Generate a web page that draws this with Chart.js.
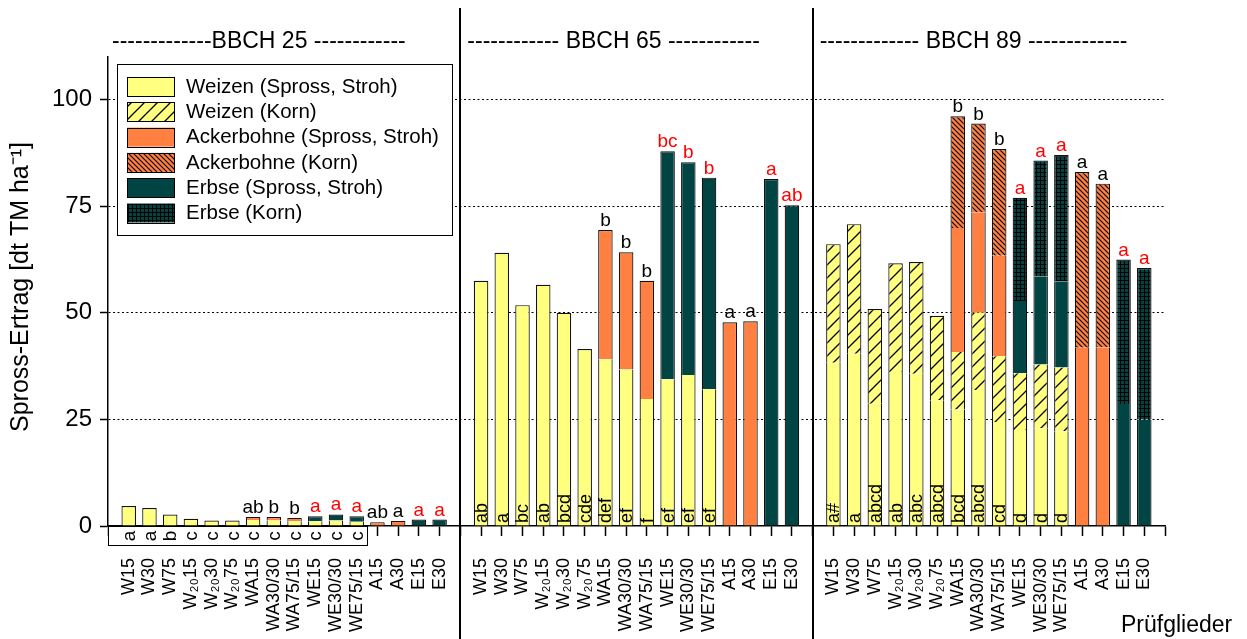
<!DOCTYPE html>
<html lang="de">
<head>
<meta charset="utf-8">
<title>Spross-Ertrag</title>
<script src="https://cdn.jsdelivr.net/npm/chart.js@4.4.1/dist/chart.umd.min.js"></script>
<style>
  html, body { margin: 0; padding: 0; background: #fff; }
  canvas { display: block; }
</style>
</head>
<body>
<canvas id="chart" width="1247" height="639"></canvas>
<script>
// Prüfglieder je Stadium (gleiche Reihenfolge in allen drei Blöcken)
const kategorien = ['W15', 'W30', 'W75', 'W\u2082\u208015', 'W\u2082\u208030', 'W\u2082\u208075', 'WA15', 'WA30/30', 'WA75/15', 'WE15', 'WE30/30', 'WE75/15', 'A15', 'A30', 'E15', 'E30'];
const stadien = ['BBCH 25', 'BBCH 65', 'BBCH 89'];
const yTicks = [0, 25, 50, 75, 100];

// BBCH 25
const weizenSpross25 = [4.7, 4.2, 2.7, 1.7, 1.3, 1.3, 1.4, 1.3, 1.1, 1.1, 1.3, 1.0, 0, 0, 0, 0];
const bohneSpross25 = [0, 0, 0, 0, 0, 0, 0.7, 0.8, 0.8, 0, 0, 0, 0.9, 1.2, 0, 0];
const erbseSpross25 = [0, 0, 0, 0, 0, 0, 0, 0, 0, 1.2, 1.4, 1.3, 0, 0, 1.5, 1.5];

// BBCH 65
const weizenSpross65 = [57.5, 64.1, 51.8, 56.6, 50.0, 41.5, 39.1, 36.7, 29.8, 34.4, 35.4, 32.1, 0, 0, 0, 0];
const bohneSpross65 = [0, 0, 0, 0, 0, 0, 30.3, 27.5, 27.7, 0, 0, 0, 47.8, 48.0, 0, 0];
const erbseSpross65 = [0, 0, 0, 0, 0, 0, 0, 0, 0, 53.5, 49.9, 49.6, 0, 0, 81.4, 75.2];

// BBCH 89 (Stroh + Korn)
const weizenStroh89 = [38.3, 40.4, 28.7, 36.1, 35.7, 29.5, 27.3, 31.9, 24.4, 22.5, 22.9, 22.2, 0, 0, 0, 0];
const weizenKorn89 = [27.8, 30.4, 22.2, 25.5, 26.2, 19.8, 13.5, 18.1, 15.4, 13.3, 15.0, 15.0, 0, 0, 0, 0];
const bohneStroh89 = [0, 0, 0, 0, 0, 0, 29.1, 23.6, 23.6, 0, 0, 0, 41.8, 41.9, 0, 0];
const bohneKorn89 = [0, 0, 0, 0, 0, 0, 26.2, 20.8, 25.0, 0, 0, 0, 41.2, 38.4, 0, 0];
const erbseStroh89 = [0, 0, 0, 0, 0, 0, 0, 0, 0, 17.0, 20.7, 20.2, 0, 0, 28.6, 25.0];
const erbseKorn89 = [0, 0, 0, 0, 0, 0, 0, 0, 0, 24.2, 27.1, 29.6, 0, 0, 33.9, 35.5];

// Buchstaben über den Säulen, rot = Erbse im Bestand
const oben25 = ['', '', '', '', '', '', 'ab', 'b', 'b', 'a', 'a', 'a', 'ab', 'a', 'a', 'a'];
const oben65 = ['', '', '', '', '', '', 'b', 'b', 'b', 'bc', 'b', 'b', 'a', 'a', 'a', 'ab'];
const oben89 = ['', '', '', '', '', '', 'b', 'b', 'b', 'a', 'a', 'a', 'a', 'a', 'a', 'a'];
const obenRot = [false, false, false, false, false, false, false, false, false, true, true, true, false, false, true, true];

// Buchstaben für Weizen (unten)
const unten25 = ['a', 'a', 'b', 'c', 'c', 'c', 'c', 'c', 'c', 'c', 'c', 'c'];
const unten65 = ['ab', 'a', 'bc', 'ab', 'bcd', 'cde', 'def', 'ef', 'f', 'ef', 'ef', 'ef'];
const unten89 = ['a#', 'a', 'abcd', 'ab', 'abc', 'abcd', 'bcd', 'abcd', 'cd', 'd', 'd', 'd'];

const GELB = '#FFFF80';
const ORANGE = '#FF8040';
const PETROL = '#004444';
const SCHRIFT = '"Liberation Sans", Arial, sans-serif';

Chart.defaults.font.family = SCHRIFT;
Chart.defaults.color = '#000';

const canvas = document.getElementById('chart');
const ctx = canvas.getContext('2d');

function muster(farbe, groesse, zeichne) {
  const c = document.createElement('canvas');
  c.width = groesse;
  c.height = groesse;
  const g = c.getContext('2d');
  g.fillStyle = farbe;
  g.fillRect(0, 0, groesse, groesse);
  g.strokeStyle = '#000';
  zeichne(g, groesse);
  return ctx.createPattern(c, 'repeat');
}

const weizenKornMuster = muster(GELB, 13, (g, s) => {
  g.lineWidth = 1.3;
  g.beginPath();
  g.moveTo(-1, 1); g.lineTo(1, -1);
  g.moveTo(0, s); g.lineTo(s, 0);
  g.moveTo(s - 1, s + 1); g.lineTo(s + 1, s - 1);
  g.stroke();
});
const bohneKornMuster = muster(ORANGE, 5, (g, s) => {
  g.lineWidth = 1.1;
  g.beginPath();
  g.moveTo(-1, s - 1); g.lineTo(1, s + 1);
  g.moveTo(0, 0); g.lineTo(s, s);
  g.moveTo(s - 1, -1); g.lineTo(s + 1, 1);
  g.stroke();
});
const erbseKornMuster = muster(PETROL, 4, (g, s) => {
  g.lineWidth = 1;
  g.beginPath();
  g.moveTo(0.5, 0); g.lineTo(0.5, s);
  g.moveTo(0, 0.5); g.lineTo(s, 0.5);
  g.stroke();
});

// 52 Positionen: leerer Platz an jeder Blockgrenze
const labels = [''];
stadien.forEach(() => { labels.push(...kategorien, ''); });

function verbinde(a, b, c) {
  const out = [null];
  [a, b, c].forEach(arr => {
    for (let i = 0; i < kategorien.length; i++) out.push(arr ? (arr[i] || null) : null);
    out.push(null);
  });
  return out;
}

function randBreite(c) {
  const ds = c.chart.data.datasets;
  const i = c.dataIndex;
  if (!ds[c.datasetIndex].data[i]) return 0;
  let oben = true;
  for (let k = c.datasetIndex + 1; k < ds.length; k++) {
    if (ds[k].data[i]) oben = false;
  }
  return { left: 1.2, right: 1.2, top: oben ? 1.2 : 0, bottom: 0 };
}

const datasets = [
  { label: 'Weizen (Spross, Stroh)', data: verbinde(weizenSpross25, weizenSpross65, weizenStroh89), backgroundColor: GELB },
  { label: 'Weizen (Korn)', data: verbinde(null, null, weizenKorn89), backgroundColor: weizenKornMuster },
  { label: 'Ackerbohne (Spross, Stroh)', data: verbinde(bohneSpross25, bohneSpross65, bohneStroh89), backgroundColor: ORANGE },
  { label: 'Ackerbohne (Korn)', data: verbinde(null, null, bohneKorn89), backgroundColor: bohneKornMuster },
  { label: 'Erbse (Spross, Stroh)', data: verbinde(erbseSpross25, erbseSpross65, erbseStroh89), backgroundColor: PETROL },
  { label: 'Erbse (Korn)', data: verbinde(null, null, erbseKorn89), backgroundColor: erbseKornMuster }
].map(d => Object.assign(d, {
  borderColor: '#111',
  borderWidth: randBreite,
  borderSkipped: false,
  categoryPercentage: 1,
  barPercentage: 0.7
}));

const beschriftung = {
  id: 'beschriftung',
  afterDraw(chart) {
    const x = chart.scales.x;
    const y = chart.scales.y;
    const c = chart.ctx;
    const basis = y.getPixelForValue(0);
    c.save();

    // Trennlinien zwischen den Stadien
    c.strokeStyle = '#000';
    c.lineWidth = 2;
    [17, 34].forEach(i => {
      const px = Math.round(x.getPixelForValue(i));
      c.beginPath();
      c.moveTo(px, 8);
      c.lineTo(px, 639);
      c.stroke();
    });

    // Überschriften
    c.fillStyle = '#000';
    c.font = '23px ' + SCHRIFT;
    c.textBaseline = 'middle';
    c.textAlign = 'left';
    const kopf = ['-------------BBCH 25 ------------', '------------ BBCH 65 ------------', '------------- BBCH 89 -------------'];
    const kopfVersatz = [4, 7, 7];
    kopf.forEach((t, g) => {
      c.fillText(t, x.getPixelForValue(g * 17) + kopfVersatz[g], 42);
    });

    // Buchstaben über den Säulen
    const ds = chart.data.datasets;
    const obenAlle = [oben25, oben65, oben89];
    c.font = '19px ' + SCHRIFT;
    c.textAlign = 'center';
    c.textBaseline = 'alphabetic';
    obenAlle.forEach((arr, g) => {
      arr.forEach((t, k) => {
        if (!t) return;
        const i = g * 17 + 1 + k;
        let summe = 0;
        ds.forEach(d => { summe += d.data[i] || 0; });
        c.fillStyle = obenRot[k] ? '#FF0000' : '#000';
        c.fillText(t, x.getPixelForValue(i), y.getPixelForValue(summe) - 4);
      });
    });

    // Buchstaben in den Weizensäulen (BBCH 65, 89)
    c.fillStyle = '#000';
    c.font = '18px ' + SCHRIFT;
    c.textAlign = 'left';
    c.textBaseline = 'middle';
    [[unten65, 1], [unten89, 2]].forEach(([arr, g]) => {
      arr.forEach((t, k) => {
        const i = g * 17 + 1 + k;
        c.save();
        c.translate(x.getPixelForValue(i), basis - 3);
        c.rotate(-Math.PI / 2);
        c.fillText(t, 0, 1);
        c.restore();
      });
    });

    // Kasten unter BBCH 25
    const kl = x.getPixelForValue(0);
    const kr = x.getPixelForValue(12.5);
    c.fillStyle = '#fff';
    c.fillRect(kl, basis + 1, kr - kl, 18);
    c.strokeStyle = '#000';
    c.lineWidth = 1;
    c.strokeRect(Math.round(kl) + 0.5, Math.round(basis) + 0.5, Math.round(kr - kl), 19);
    c.fillStyle = '#000';
    c.font = '19px ' + SCHRIFT;
    c.textAlign = 'center';
    unten25.forEach((t, k) => {
      c.save();
      c.translate(x.getPixelForValue(1 + k), basis + 10);
      c.rotate(-Math.PI / 2);
      c.fillText(t, 0, 1);
      c.restore();
    });

    // Legende
    const lx = 117, ly = 64;
    c.fillStyle = '#fff';
    c.fillRect(lx, ly, 335, 171);
    c.strokeStyle = '#000';
    c.lineWidth = 1;
    c.strokeRect(lx + 0.5, ly + 0.5, 335, 171);
    c.font = '20.5px ' + SCHRIFT;
    c.textAlign = 'left';
    c.textBaseline = 'middle';
    ds.forEach((d, k) => {
      const ry = 77 + k * 25.3;
      c.fillStyle = d.backgroundColor;
      c.fillRect(127, ry, 48, 19);
      c.strokeRect(127.5, Math.round(ry) + 0.5, 47, 19);
      c.fillStyle = '#000';
      c.fillText(d.label, 186, ry + 10);
    });

    // Achsentitel
    c.save();
    c.translate(21, 287);
    c.rotate(-Math.PI / 2);
    c.font = '25px ' + SCHRIFT;
    c.textAlign = 'center';
    c.fillText('Spross-Ertrag [dt TM ha\u207B\u00B9]', 0, 0);
    c.restore();

    c.font = '23px ' + SCHRIFT;
    c.textAlign = 'left';
    c.textBaseline = 'alphabetic';
    c.fillText('Prüfglieder', 1121, 632);

    c.restore();
  }
};

new Chart(ctx, {
  type: 'bar',
  data: { labels: labels, datasets: datasets },
  options: {
    responsive: false,
    animation: false,
    devicePixelRatio: 1,
    layout: { padding: { top: 57, right: 82, bottom: 0, left: 0 } },
    plugins: { legend: { display: false }, tooltip: { enabled: false } },
    scales: {
      x: {
        stacked: true,
        offset: false,
        grid: { display: true, offset: false, drawOnChartArea: false, drawTicks: true, tickLength: 10, tickColor: '#000', tickWidth: 1.5 },
        border: { display: true, color: '#000', width: 1.5 },
        ticks: { autoSkip: false, minRotation: 90, maxRotation: 90, padding: 22, color: '#000', font: { size: 18 } },
        afterFit: s => { s.height = 113; }
      },
      y: {
        stacked: true,
        min: 0,
        max: 110,
        afterBuildTicks: s => { s.ticks = yTicks.map(v => ({ value: v })); },
        ticks: { padding: 8, color: '#000', font: { size: 24 } },
        grid: {
          color: c => (c.tick && c.tick.value === 0 ? 'rgba(0,0,0,0)' : '#000'),
          lineWidth: 1,
          tickLength: 8,
          tickColor: '#000',
          tickWidth: 1.5,
          tickBorderDash: []
        },
        border: { display: true, color: '#000', width: 1.5, dash: [2, 2.5] },
        afterFit: s => { s.width = 108; }
      }
    }
  },
  plugins: [beschriftung]
});
</script>
</body>
</html>
